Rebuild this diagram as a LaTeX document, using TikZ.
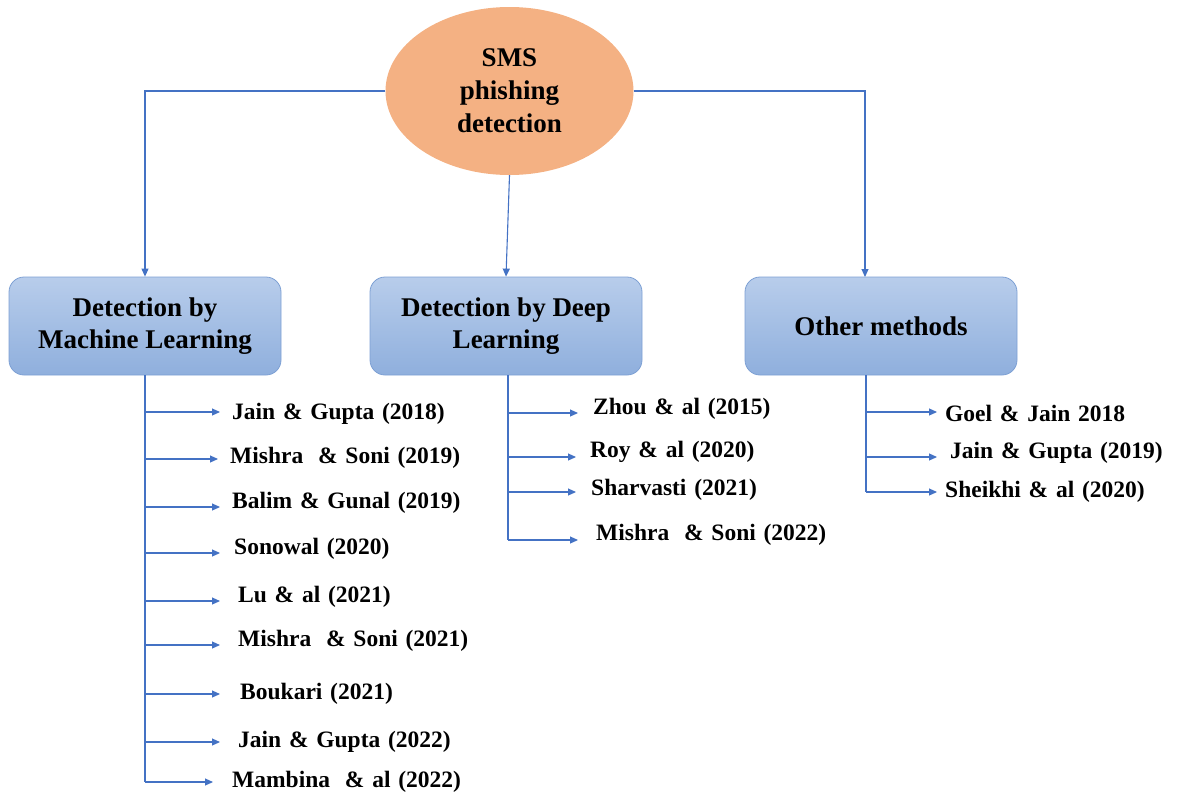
\documentclass[tikz,border=0pt]{standalone}
\usepackage{fontspec}
\setmainfont{Liberation Serif}
\usetikzlibrary{arrows.meta,shapes.geometric}
\definecolor{linkblue}{HTML}{4472C4}
\definecolor{peach}{HTML}{F4B183}
\definecolor{boxtop}{HTML}{B8CDEB}
\definecolor{boxbot}{HTML}{8FAFDD}
\definecolor{boxline}{HTML}{7DA0D4}
\newcommand\refspacing{\spaceskip=0.33em plus 0.1em\relax}
\begin{document}
\begin{tikzpicture}[x=1pt,y=-1pt,
  link/.style={draw=linkblue,line width=1.1pt},
  arr/.style={link,-{Triangle[length=8pt,width=7pt]}},
  catbox/.style={rectangle,rounded corners=15pt,draw=boxline,line width=0.8pt,
    top color=boxtop,bottom color=boxbot,minimum width=272pt,minimum height=98pt,
    align=center,font=\fontsize{27}{32}\selectfont\bfseries},
  ref/.style={anchor=west,inner sep=0pt,
    font=\fontsize{23.5}{27}\selectfont\bfseries\refspacing}]
\useasboundingbox (0,0) rectangle (1181,796);

% root topic
\node[ellipse,fill=peach,minimum width=248pt,minimum height=168pt,align=center,
  font=\fontsize{27}{33}\selectfont\bfseries] (root) at (509.5,91) {SMS\\phishing\\detection};

% categories
\node[catbox] (ml) at (145,326) {Detection by\\Machine Learning};
\node[catbox] (dl) at (506,326) {Detection by Deep\\Learning};
\node[catbox] (om) at (881,326) {Other methods};

\coordinate (omtop) at (865,277);
\coordinate (omS) at (866,375);

\draw[arr] (root.west) -| (ml.north);
\draw[arr] (root.south) -- (dl.north);
\draw[arr] (root.east) -| (omtop);

% machine learning references
\foreach \i/\ay/\ax/\tx/\ty/\t in {
  1/412/220/232/414/{Jain \& Gupta (2018)},
  2/459/218/230/458/{Mishra\hspace{0.3em} \& Soni (2019)},
  3/507/220/232/503/{Balim \& Gunal (2019)},
  4/553/220/234/549/{Sonowal (2020)},
  5/601/220/238/597/{Lu \& al (2021)},
  6/645/220/238/641/{Mishra\hspace{0.3em} \& Soni (2021)},
  7/694/220/240/694/{Boukari (2021)},
  8/742/220/238/742/{Jain \& Gupta (2022)},
  9/782/213/232/782/{Mambina\hspace{0.3em} \& al (2022)}}{
  \coordinate (ma\i) at (\ax,\ay);
  \node[ref] (m\i) at (\tx,\ty) {\t};
  \draw[arr] (ml.south |- ma\i) -- (ma\i);
}
\draw[link] (ml.south) -- (ml.south |- ma9);

% deep learning references
\foreach \i/\ay/\ax/\tx/\ty/\t in {
  1/413/578/593/409/{Zhou \& al (2015)},
  2/457/576/590/452/{Roy \& al (2020)},
  3/492/576/591/490/{Sharvasti (2021)},
  4/540/578/596/535/{Mishra\hspace{0.3em} \& Soni (2022)}}{
  \coordinate (da\i) at (\ax,\ay);
  \node[ref] (d\i) at (\tx,\ty) {\t};
  \draw[arr] (508,\ay) -- (da\i);
}
\draw[link] (508,375) -- (508,540);

% other methods references
\foreach \i/\ay/\ax/\tx/\ty/\t in {
  1/412/937/945/413/{Goel \& Jain 2018},
  2/457/937/950/453/{Jain \& Gupta (2019)},
  3/492/937/945/492/{Sheikhi \& al (2020)}}{
  \coordinate (oa\i) at (\ax,\ay);
  \node[ref] (o\i) at (\tx,\ty) {\t};
  \draw[arr] (omS |- oa\i) -- (oa\i);
}
\draw[link] (omS) -- (omS |- oa3);
\end{tikzpicture}
\end{document}
